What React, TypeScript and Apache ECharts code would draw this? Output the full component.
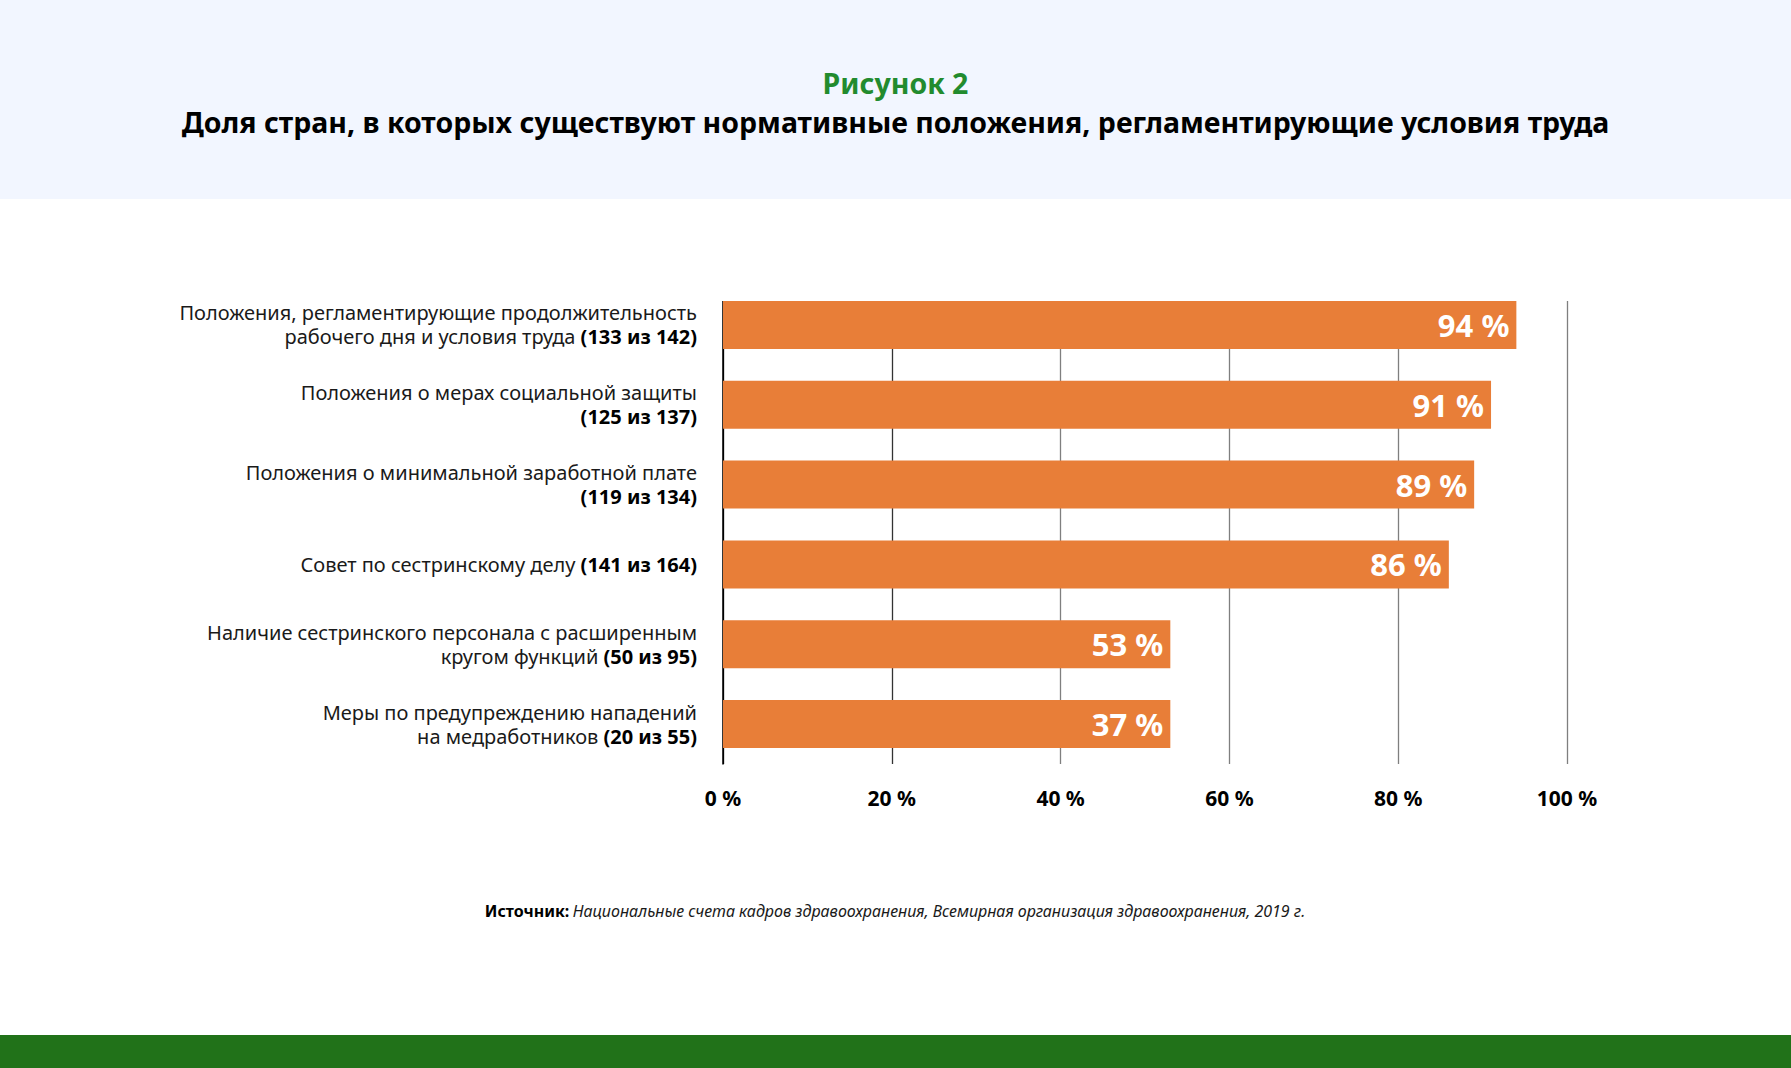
import React, { useEffect, useRef } from "react";
import * as echarts from "echarts";

// ---- data ----
const labelTexts: string[][] = [
  ["Положения, регламентирующие продолжительность", "рабочего дня и условия труда "],
  ["Положения о мерах социальной защиты", ""],
  ["Положения о минимальной заработной плате", ""],
  ["Совет по сестринскому делу "],
  ["Наличие сестринского персонала с расширенным", "кругом функций "],
  ["Меры по предупреждению нападений", "на медработников "],
];
const labelCounts: string[] = [
  "(133 из 142)",
  "(125 из 137)",
  "(119 из 134)",
  "(141 из 164)",
  "(50 из 95)",
  "(20 из 55)",
];
const categories: string[] = labelTexts.map((t, i) => t.join(" ") + labelCounts[i]);
// bar lengths as drawn in the picture (the last bar is drawn as long as the 53 % one)
const barLengths: number[] = [94, 91, 89, 86, 53, 53];
// percentages printed on the bars
const shownPercents: number[] = [94, 91, 89, 86, 53, 37];
const xTicks = { min: 0, max: 100, interval: 20 };

const FONT = "'Noto Sans', sans-serif";

export default function App() {
  const ref = useRef<HTMLDivElement>(null);
  useEffect(() => {
    if (!ref.current) return;
    const chart = echarts.init(ref.current, null, { renderer: "svg" });
    chart.setOption({
      animation: false,
      backgroundColor: "#ffffff",
      textStyle: { fontFamily: FONT },
      title: [
        {
          text: "Рисунок 2",
          left: "center",
          top: 63,
          textStyle: { color: "#228B2E", fontSize: 28.5, fontWeight: "bold", fontFamily: FONT },
        },
        {
          text: "Доля стран, в которых существуют нормативные положения, регламентирующие условия труда",
          left: "center",
          top: 102,
          textStyle: { color: "#000000", fontSize: 28.5, fontWeight: "bold", fontFamily: FONT },
        },
      ],
      graphic: [
        {
          type: "rect",
          z: -10,
          silent: true,
          shape: { x: 0, y: 0, width: 1791, height: 199 },
          style: { fill: "#F2F6FF" },
        },
        {
          // white strip so that grid lines start at the top of the first bar
          type: "rect",
          z: 1,
          silent: true,
          shape: { x: 700, y: 280, width: 900, height: 21 },
          style: { fill: "#ffffff" },
        },
        {
          type: "rect",
          z: -10,
          silent: true,
          shape: { x: 0, y: 1035, width: 1791, height: 33 },
          style: { fill: "#217219" },
        },
        {
          type: "text",
          x: 895,
          y: 911,
          style: {
            text: "{b|Источник:} {i|Национальные счета кадров здравоохранения, Всемирная организация здравоохранения, 2019 г.}",
            align: "center",
            verticalAlign: "middle",
            rich: {
              b: { fontSize: 16, fontWeight: "bold", fill: "#000", fontFamily: FONT },
              i: { fontSize: 16, fontStyle: "italic", fill: "#1a1a1a", fontFamily: FONT },
            },
          },
        },
      ],
      grid: { left: 723, right: 224, top: 285, bottom: 304, containLabel: false },
      xAxis: {
        type: "value",
        min: xTicks.min,
        max: xTicks.max,
        interval: xTicks.interval,
        axisLine: { show: false },
        axisTick: { show: false },
        splitLine: {
          show: true,
          lineStyle: {
            color: ["#000000", "#333333", "#7f7f7f", "#7f7f7f", "#7f7f7f", "#7f7f7f"],
            width: 1.3,
          },
        },
        axisLabel: {
          formatter: "{value} %",
          color: "#000",
          fontSize: 21,
          fontWeight: "bold",
          margin: 23,
          fontFamily: FONT,
        },
      },
      yAxis: {
        type: "category",
        inverse: true,
        data: categories,
        axisLine: { show: true, lineStyle: { color: "#000", width: 1.5 } },
        axisTick: { show: false },
        axisLabel: {
          margin: 26,
          align: "right",
          formatter: (_v: string, i: number) => {
            const lines = labelTexts[i];
            const parts = lines.map((l, k) => {
              const last = k === lines.length - 1;
              const reg = l.length ? `{r|${l}}` : "";
              return last ? `${reg}{b|${labelCounts[i]}}` : reg;
            });
            return parts.join("\n");
          },
          rich: {
            r: { fontSize: 20, color: "#1a1a1a", lineHeight: 24, fontFamily: FONT, align: "right" },
            b: { fontSize: 20, fontWeight: "bold", color: "#000", lineHeight: 24, fontFamily: FONT, align: "right" },
          },
        },
      },
      series: [
        {
          type: "bar",
          data: barLengths,
          barWidth: 48,
          itemStyle: { color: "#E87E38" },
          label: {
            show: true,
            position: "insideRight",
            distance: 7,
            formatter: (p: any) => `${shownPercents[p.dataIndex]} %`,
            color: "#ffffff",
            fontSize: 31,
            fontWeight: "bold",
            fontFamily: FONT,
          },
        },
      ],
    });
    return () => chart.dispose();
  }, []);
  return (
    <div
      ref={ref}
      style={{ position: "absolute", left: 0, top: 0, width: 1791, height: 1068 }}
    />
  );
}
